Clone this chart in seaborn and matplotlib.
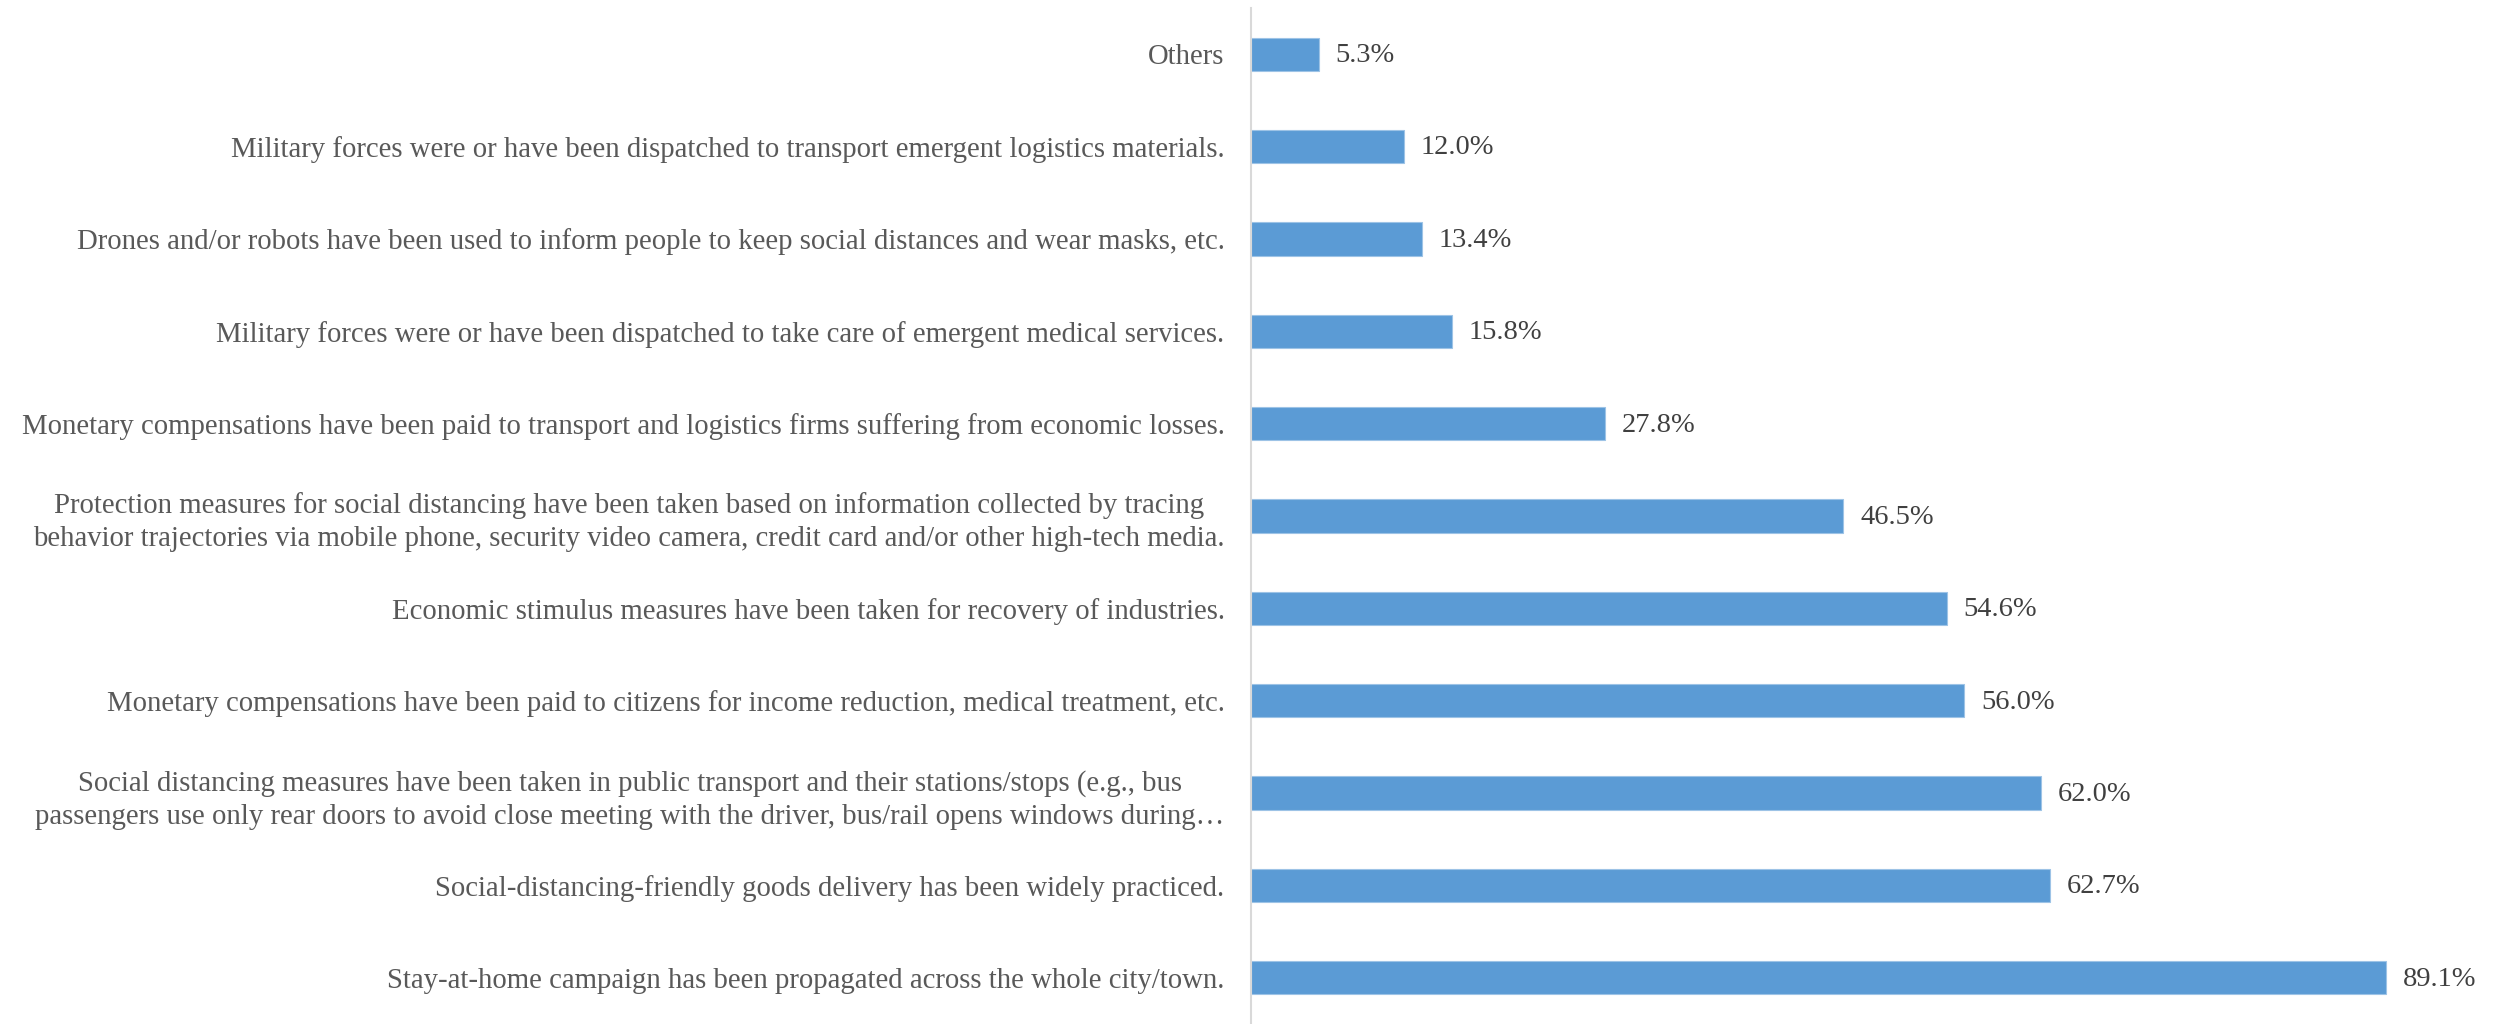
import matplotlib
matplotlib.use("Agg")
import matplotlib.pyplot as plt
import seaborn as sns
import numpy as np
import pandas as pd

categories = [
    "Others",
    "Military forces were or have been dispatched to transport emergent logistics materials.",
    "Drones and/or robots have been used to inform people to keep social distances and wear masks, etc.",
    "Military forces were or have been dispatched to take care of emergent medical services.",
    "Monetary compensations have been paid to transport and logistics firms suffering from economic losses.",
    "Protection measures for social distancing have been taken based on information collected by tracing\nbehavior trajectories via mobile phone, security video camera, credit card and/or other high-tech media.",
    "Economic stimulus measures have been taken for recovery of industries.",
    "Monetary compensations have been paid to citizens for income reduction, medical treatment, etc.",
    "Social distancing measures have been taken in public transport and their stations/stops (e.g., bus\npassengers use only rear doors to avoid close meeting with the driver, bus/rail opens windows during\u2026",
    "Social-distancing-friendly goods delivery has been widely practiced.",
    "Stay-at-home campaign has been propagated across the whole city/town.",
]
values = [5.3, 12.0, 13.4, 15.8, 27.8, 46.5, 54.6, 56.0, 62.0, 62.7, 89.1]
value_labels = ["5.3%", "12.0%", "13.4%", "15.8%", "27.8%", "46.5%", "54.6%", "56.0%", "62.0%", "62.7%", "89.1%"]

sns.set_style("white")
plt.rcParams["font.family"] = ["Liberation Serif", "DejaVu Serif"]

df = pd.DataFrame({"cat": categories, "val": values})

W, H = 2503, 1024
fig = plt.figure(figsize=(W / 100, H / 100), dpi=100)
left = 1251 / W
right = 2490 / W
ax = fig.add_axes([left, 0.0, right - left, 1 - 8 / H])

sns.barplot(data=df, x="val", y="cat", order=categories, color="#5B9BD5",
            saturation=1, width=0.36, edgecolor="#9DC3E6", linewidth=0.8, ax=ax)

ax.set_xlim(0, (2490 - 1251) / 12.74)
ax.set_ylim(len(categories) - 0.5, -0.5)
ax.set_xlabel("")
ax.set_ylabel("")
ax.set_xticks([])

for sp in ["top", "right", "bottom"]:
    ax.spines[sp].set_visible(False)
ax.spines["left"].set_color("#d9d9d9")
ax.spines["left"].set_linewidth(1.5)

ax.tick_params(axis="y", which="major", length=0, pad=19, labelsize=20.7, labelcolor="#595959")
ax.set_yticks(np.arange(-0.5, len(categories), 1), minor=True)
ax.tick_params(axis="y", which="minor", length=6, width=1.5, color="#d9d9d9")
for t in ax.get_yticklabels():
    t.set_multialignment("center")
    t.set_linespacing(1.35)

for i, (v, lab) in enumerate(zip(values, value_labels)):
    ax.annotate(lab, xy=(v, i), xytext=(12, -1), textcoords="offset points",
                va="center", ha="left", fontsize=20.5, color="#404040")

fig.savefig("out.png", dpi=100)
